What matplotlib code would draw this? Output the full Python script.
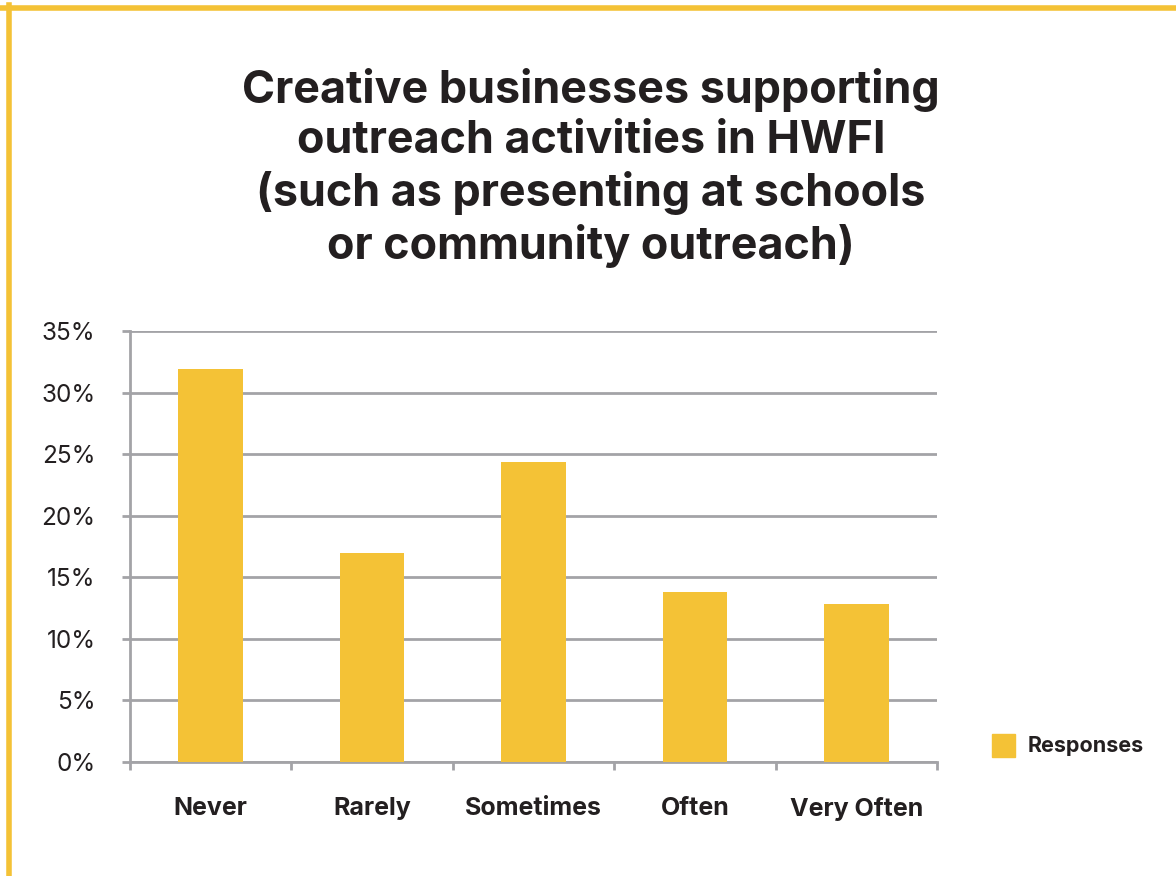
import matplotlib
matplotlib.use('Agg')
from matplotlib import pyplot as plt
from matplotlib.patches import Rectangle
from matplotlib.lines import Line2D
from matplotlib.ticker import FuncFormatter
import numpy as np

plt.rcParams['font.family'] = ['Inter', 'DejaVu Sans']

# 数据
categories = ['Never', 'Rarely', 'Sometimes', 'Often', 'Very Often']
responses = [31.9, 17.0, 24.4, 13.8, 12.8]
y_ticks = [0, 5, 10, 15, 20, 25, 30, 35]

bar_color = '#F4C236'
grid_color = '#A3A3A7'
text_color = '#231F20'

fig = plt.figure(figsize=(11.76, 8.76), dpi=100)
W, H = 1176, 876

# 黄色边框（上边和左边）
fig.add_artist(Line2D([0, 1], [1 - 7.5 / H, 1 - 7.5 / H], color=bar_color, lw=4, transform=fig.transFigure))
fig.add_artist(Line2D([8.5 / W, 8.5 / W], [0, 1 - 5 / H], color=bar_color, lw=4, transform=fig.transFigure))

# 标题
fig.text(591 / W, 1 - 168 / H,
         'Creative businesses supporting\noutreach activities in HWFI\n(such as presenting at schools\nor community outreach)',
         ha='center', va='center', fontsize=32.3, fontweight='bold', color=text_color, linespacing=1.25)

ax = fig.add_axes([130 / W, 1 - 762 / H, (937 - 130) / W, (762 - 331) / H])
x = np.arange(len(categories))
ax.bar(x, responses, width=0.4, color=bar_color, zorder=3)

ax.set_xlim(-0.5, len(categories) - 0.5)
ax.set_ylim(0, 35)
ax.set_yticks(y_ticks)
ax.yaxis.set_major_formatter(FuncFormatter(lambda v, p: f'{int(v)}%'))
ax.grid(axis='y', color=grid_color, lw=2, zorder=1)
ax.tick_params(axis='y', length=5.8, width=2, color=grid_color, labelsize=17.5, labelcolor=text_color, pad=19)

# x轴刻度在类别之间
ax.set_xticks(np.arange(-0.5, len(categories)), minor=False)
ax.set_xticklabels([])
ax.set_xticks(x, minor=True)
ax.set_xticklabels(categories, minor=True)
ax.tick_params(axis='x', which='major', length=5.8, width=2, color=grid_color)
ax.tick_params(axis='x', which='minor', length=0, labelsize=18, labelcolor=text_color, pad=25.5)
for lab in ax.get_xticklabels(minor=True):
    lab.set_fontweight('bold')

for side in ['top', 'right']:
    ax.spines[side].set_visible(False)
for side in ['left', 'bottom']:
    ax.spines[side].set_color(grid_color)
    ax.spines[side].set_linewidth(2)

# 图例
fig.add_artist(Rectangle((992 / W, 1 - 757 / H), 23 / W, 23 / H, color=bar_color, transform=fig.transFigure))
fig.text(1028 / W, 1 - 746 / H, 'Responses', ha='left', va='center', fontsize=15.5,
         fontweight='bold', color=text_color)

plt.savefig('out.png', dpi=100)
